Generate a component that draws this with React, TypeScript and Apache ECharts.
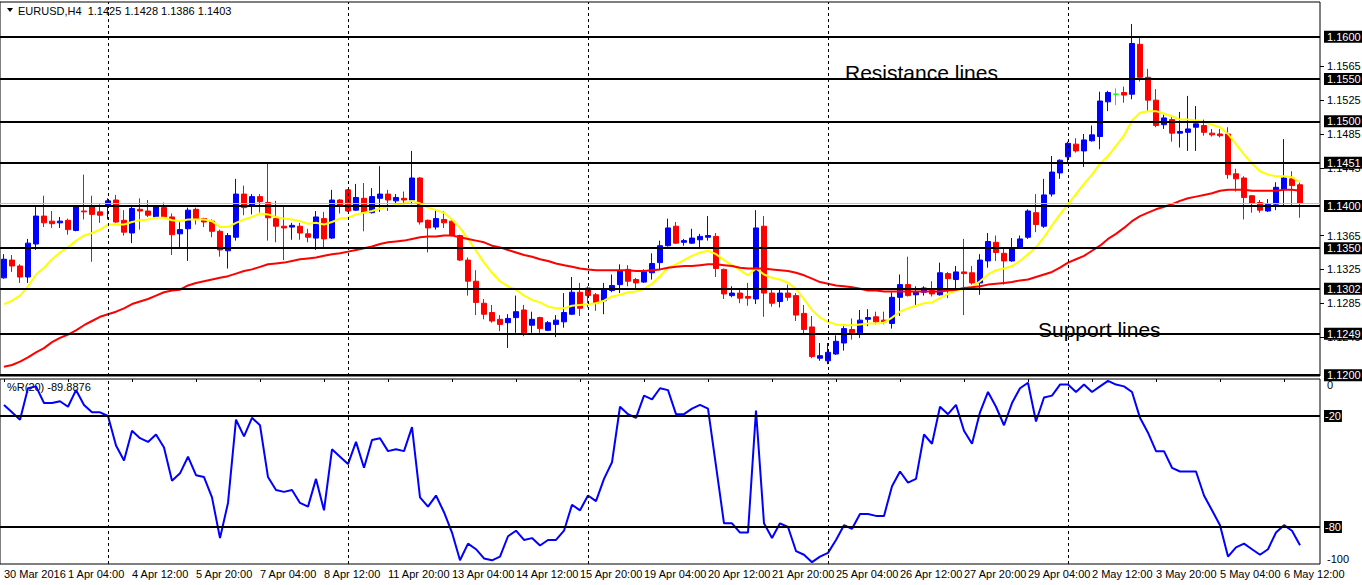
import React, { useEffect, useRef } from "react";
import * as echarts from "echarts";

// ---- tick labels on the time axis (one every 8 bars) ----
const tickLabels = [
  "30 Mar 2016", "1 Apr 04:00", "4 Apr 12:00", "5 Apr 20:00", "7 Apr 04:00", "8 Apr 12:00",
  "11 Apr 20:00", "13 Apr 04:00", "14 Apr 12:00", "15 Apr 20:00", "19 Apr 04:00", "20 Apr 12:00",
  "21 Apr 20:00", "25 Apr 04:00", "26 Apr 12:00", "27 Apr 20:00", "29 Apr 04:00", "2 May 12:00",
  "3 May 20:00", "5 May 04:00", "6 May 12:00",
];

// ---- EURUSD H4 candles ----
const opens = [
  1.1315, 1.1336, 1.1329, 1.1316, 1.1355, 1.1388, 1.1382, 1.1380, 1.1383, 1.1371,
  1.1394, 1.1399, 1.1393, 1.1400, 1.1407, 1.1383, 1.1368, 1.1396, 1.1394, 1.1387,
  1.1398, 1.1387, 1.1367, 1.1373, 1.1396, 1.1385, 1.1382, 1.1370, 1.1347, 1.1363,
  1.1414, 1.1400, 1.1411, 1.1404, 1.1385, 1.1376, 1.1375, 1.1376, 1.1367, 1.1362,
  1.1385, 1.1362, 1.1407, 1.1419, 1.1395, 1.1409, 1.1392, 1.1409, 1.1414, 1.1406,
  1.1409, 1.1407, 1.1433, 1.1383, 1.1375, 1.1384, 1.1382, 1.1365, 1.1336, 1.1311,
  1.1285, 1.1274, 1.1266, 1.1262, 1.1268, 1.1277, 1.1259, 1.1268, 1.1253, 1.1260,
  1.1263, 1.1272, 1.1298, 1.1303, 1.1295, 1.1288, 1.1300, 1.1307, 1.1325, 1.1313,
  1.1310, 1.1321, 1.1333, 1.1353, 1.1376, 1.1357, 1.1356, 1.1360, 1.1363, 1.1364,
  1.1325, 1.1294, 1.1297, 1.1293, 1.1290, 1.1376, 1.1297, 1.1287, 1.1297, 1.1294,
  1.1273, 1.1257, 1.1220, 1.1217, 1.1225, 1.1238, 1.1254, 1.1250, 1.1266, 1.1269,
  1.1265, 1.1261, 1.1292, 1.1307, 1.1295, 1.1298, 1.1300, 1.1295, 1.1320, 1.1313,
  1.1322, 1.1321, 1.1309, 1.1335, 1.1357, 1.1344, 1.1335, 1.1350, 1.1363, 1.1392,
  1.1376, 1.1414, 1.1439, 1.1458, 1.1473, 1.1465, 1.1477, 1.1482, 1.1523, 1.1532,
  1.1534, 1.1532, 1.1591, 1.1552, 1.1525, 1.1496, 1.1502, 1.1486, 1.1487, 1.1493,
  1.1495, 1.1486, 1.1485, 1.1485, 1.1438, 1.1433, 1.1412, 1.1404, 1.1394, 1.1402,
  1.1420, 1.1432, 1.1425,
];
const closes = [
  1.1337, 1.1329, 1.1316, 1.1356, 1.1388, 1.1380, 1.1379, 1.1382, 1.1372, 1.1399,
  1.1393, 1.1390, 1.1389, 1.1406, 1.1381, 1.1369, 1.1397, 1.1394, 1.1389, 1.1399,
  1.1387, 1.1366, 1.1372, 1.1395, 1.1385, 1.1381, 1.1370, 1.1348, 1.1365, 1.1414,
  1.1398, 1.1411, 1.1405, 1.1386, 1.1376, 1.1374, 1.1377, 1.1368, 1.1363, 1.1387,
  1.1361, 1.1407, 1.1401, 1.1394, 1.1410, 1.1392, 1.1411, 1.1414, 1.1407, 1.1410,
  1.1407, 1.1433, 1.1381, 1.1374, 1.1385, 1.1380, 1.1365, 1.1336, 1.1311, 1.1286,
  1.1272, 1.1264, 1.1260, 1.1267, 1.1275, 1.1250, 1.1266, 1.1255, 1.1262, 1.1265,
  1.1274, 1.1298, 1.1279, 1.1294, 1.1285, 1.1301, 1.1306, 1.1323, 1.1311, 1.1309,
  1.1322, 1.1332, 1.1353, 1.1374, 1.1356, 1.1359, 1.1362, 1.1364, 1.1365, 1.1326,
  1.1296, 1.1297, 1.1291, 1.1291, 1.1374, 1.1297, 1.1285, 1.1297, 1.1292, 1.1271,
  1.1254, 1.1222, 1.1223, 1.1227, 1.1240, 1.1255, 1.1250, 1.1265, 1.1268, 1.1263,
  1.1263, 1.1292, 1.1307, 1.1294, 1.1298, 1.1303, 1.1296, 1.1321, 1.1314, 1.1322,
  1.1320, 1.1309, 1.1336, 1.1358, 1.1345, 1.1335, 1.1350, 1.1361, 1.1394, 1.1378,
  1.1413, 1.1440, 1.1454, 1.1474, 1.1465, 1.1478, 1.1484, 1.1524, 1.1534, 1.1532,
  1.1531, 1.1592, 1.1552, 1.1525, 1.1495, 1.1504, 1.1486, 1.1488, 1.1491, 1.1497,
  1.1487, 1.1484, 1.1483, 1.1437, 1.1432, 1.1410, 1.1403, 1.1395, 1.1402, 1.1422,
  1.1433, 1.1424, 1.1403,
];
const lows = [
  1.1314, 1.1322, 1.1309, 1.1309, 1.1348, 1.1375, 1.1374, 1.1374, 1.1366, 1.1370,
  1.1384, 1.1334, 1.1380, 1.1384, 1.1380, 1.1365, 1.1356, 1.1372, 1.1387, 1.1386,
  1.1386, 1.1342, 1.1351, 1.1335, 1.1378, 1.1375, 1.1363, 1.1340, 1.1326, 1.1359,
  1.1389, 1.1390, 1.1392, 1.1359, 1.1357, 1.1336, 1.1360, 1.1360, 1.1357, 1.1348,
  1.1351, 1.1361, 1.1391, 1.1393, 1.1394, 1.1370, 1.1391, 1.1393, 1.1394, 1.1402,
  1.1402, 1.1402, 1.1378, 1.1345, 1.1372, 1.1374, 1.1364, 1.1335, 1.1294, 1.1271,
  1.1266, 1.1262, 1.1252, 1.1232, 1.1250, 1.1246, 1.1250, 1.1250, 1.1252, 1.1245,
  1.1256, 1.1271, 1.1270, 1.1280, 1.1276, 1.1272, 1.1298, 1.1297, 1.1305, 1.1302,
  1.1309, 1.1313, 1.1325, 1.1352, 1.1355, 1.1353, 1.1355, 1.1349, 1.1359, 1.1316,
  1.1290, 1.1292, 1.1285, 1.1282, 1.1284, 1.1269, 1.1281, 1.1280, 1.1288, 1.1264,
  1.1248, 1.1220, 1.1217, 1.1213, 1.1224, 1.1229, 1.1242, 1.1244, 1.1258, 1.1260,
  1.1260, 1.1255, 1.1270, 1.1293, 1.1282, 1.1294, 1.1293, 1.1294, 1.1291, 1.1301,
  1.1271, 1.1307, 1.1295, 1.1327, 1.1335, 1.1307, 1.1334, 1.1349, 1.1361, 1.1369,
  1.1374, 1.1411, 1.1432, 1.1452, 1.1463, 1.1446, 1.1476, 1.1467, 1.1512, 1.1519,
  1.1522, 1.1526, 1.1547, 1.1512, 1.1493, 1.1491, 1.1476, 1.1469, 1.1465, 1.1465,
  1.1483, 1.1482, 1.1481, 1.1432, 1.1417, 1.1384, 1.1392, 1.1392, 1.1393, 1.1395,
  1.1400, 1.1400, 1.1386,
];
const highs = [
  1.1343, 1.1342, 1.1331, 1.1361, 1.1399, 1.1412, 1.1394, 1.1387, 1.1385, 1.1400,
  1.1437, 1.1412, 1.1402, 1.1409, 1.1413, 1.1395, 1.1400, 1.1409, 1.1407, 1.1401,
  1.1404, 1.1391, 1.1381, 1.1398, 1.1398, 1.1386, 1.1384, 1.1372, 1.1368, 1.1432,
  1.1424, 1.1414, 1.1414, 1.1451, 1.1406, 1.1400, 1.1380, 1.1380, 1.1373, 1.1394,
  1.1393, 1.1419, 1.1408, 1.1420, 1.1426, 1.1427, 1.1421, 1.1447, 1.1419, 1.1414,
  1.1417, 1.1465, 1.1434, 1.1384, 1.1395, 1.1394, 1.1383, 1.1366, 1.1339, 1.1324,
  1.1290, 1.1283, 1.1271, 1.1272, 1.1294, 1.1283, 1.1275, 1.1269, 1.1264, 1.1271,
  1.1297, 1.1316, 1.1309, 1.1305, 1.1297, 1.1309, 1.1319, 1.1331, 1.1330, 1.1315,
  1.1325, 1.1344, 1.1359, 1.1385, 1.1381, 1.1361, 1.1373, 1.1367, 1.1388, 1.1368,
  1.1326, 1.1305, 1.1303, 1.1309, 1.1395, 1.1388, 1.1302, 1.1302, 1.1307, 1.1297,
  1.1283, 1.1270, 1.1238, 1.1238, 1.1247, 1.1260, 1.1267, 1.1277, 1.1278, 1.1275,
  1.1275, 1.1298, 1.1319, 1.1340, 1.1305, 1.1305, 1.1311, 1.1333, 1.1322, 1.1329,
  1.1361, 1.1329, 1.1343, 1.1368, 1.1365, 1.1349, 1.1362, 1.1365, 1.1396, 1.1414,
  1.1432, 1.1459, 1.1455, 1.1476, 1.1480, 1.1485, 1.1495, 1.1535, 1.1536, 1.1539,
  1.1541, 1.1615, 1.1600, 1.1562, 1.1538, 1.1508, 1.1507, 1.1511, 1.1530, 1.1518,
  1.1502, 1.1491, 1.1491, 1.1493, 1.1444, 1.1435, 1.1413, 1.1407, 1.1408, 1.1428,
  1.1479, 1.1441, 1.1428,
];

// ---- moving averages as drawn ----
const fastMA = [
  1.1284, 1.1288, 1.1294, 1.1305, 1.1319, 1.1327, 1.1337, 1.1345, 1.1351, 1.1359,
  1.1365, 1.1368, 1.1372, 1.1378, 1.1378, 1.1378, 1.1381, 1.1383, 1.1384, 1.1386,
  1.1386, 1.1383, 1.1382, 1.1384, 1.1384, 1.1384, 1.1382, 1.1375, 1.1375, 1.1380,
  1.1384, 1.1387, 1.1391, 1.1390, 1.1387, 1.1385, 1.1384, 1.1382, 1.1379, 1.1380,
  1.1378, 1.1381, 1.1385, 1.1386, 1.1390, 1.1392, 1.1394, 1.1397, 1.1399, 1.1401,
  1.1403, 1.1406, 1.1403, 1.1398, 1.1395, 1.1392, 1.1384, 1.1374, 1.1361, 1.1347,
  1.1333, 1.1321, 1.1311, 1.1305, 1.1301, 1.1294, 1.1289, 1.1286, 1.1281, 1.1279,
  1.1279, 1.1282, 1.1283, 1.1284, 1.1285, 1.1288, 1.1293, 1.1295, 1.1298, 1.1299,
  1.1302, 1.1308, 1.1317, 1.1327, 1.1331, 1.1336, 1.1341, 1.1345, 1.1347, 1.1343,
  1.1336, 1.1330, 1.1324, 1.1318, 1.1326, 1.1319, 1.1315, 1.1313, 1.1309, 1.1302,
  1.1290, 1.1277, 1.1268, 1.1263, 1.1260, 1.1259, 1.1259, 1.1260, 1.1261, 1.1261,
  1.1262, 1.1268, 1.1275, 1.1279, 1.1282, 1.1285, 1.1286, 1.1291, 1.1296, 1.1300,
  1.1302, 1.1304, 1.1311, 1.1319, 1.1324, 1.1326, 1.1329, 1.1335, 1.1343, 1.1351,
  1.1363, 1.1377, 1.1390, 1.1402, 1.1414, 1.1426, 1.1437, 1.1450, 1.1459, 1.1471,
  1.1483, 1.1501, 1.1510, 1.1512, 1.1512, 1.1509, 1.1506, 1.1502, 1.1502, 1.1501,
  1.1499, 1.1496, 1.1493, 1.1485, 1.1473, 1.1461, 1.1450, 1.1441, 1.1437, 1.1435,
  1.1435, 1.1434, 1.1428,
];
const slowMA = [
  1.1210, 1.1212, 1.1216, 1.1221, 1.1227, 1.1232, 1.1239, 1.1244, 1.1248, 1.1253,
  1.1259, 1.1264, 1.1269, 1.1272, 1.1275, 1.1279, 1.1284, 1.1287, 1.1290, 1.1294,
  1.1298, 1.1300, 1.1301, 1.1306, 1.1309, 1.1311, 1.1313, 1.1315, 1.1317, 1.1320,
  1.1323, 1.1325, 1.1328, 1.1331, 1.1332, 1.1333, 1.1335, 1.1337, 1.1338, 1.1339,
  1.1341, 1.1343, 1.1344, 1.1346, 1.1348, 1.1350, 1.1352, 1.1355, 1.1357, 1.1358,
  1.1359, 1.1361, 1.1363, 1.1364, 1.1364, 1.1365, 1.1365, 1.1363, 1.1361, 1.1359,
  1.1357, 1.1353, 1.1351, 1.1348, 1.1345, 1.1342, 1.1340, 1.1337, 1.1335, 1.1332,
  1.1330, 1.1328, 1.1326, 1.1325, 1.1324, 1.1324, 1.1324, 1.1324, 1.1324, 1.1323,
  1.1323, 1.1324, 1.1325, 1.1327, 1.1328, 1.1329, 1.1329, 1.1330, 1.1331, 1.1331,
  1.1330, 1.1329, 1.1327, 1.1326, 1.1326, 1.1326, 1.1325, 1.1324, 1.1323, 1.1321,
  1.1318, 1.1314, 1.1310, 1.1308, 1.1306, 1.1305, 1.1304, 1.1302, 1.1300, 1.1300,
  1.1299, 1.1299, 1.1299, 1.1299, 1.1299, 1.1299, 1.1299, 1.1299, 1.1300, 1.1301,
  1.1303, 1.1304, 1.1305, 1.1307, 1.1308, 1.1309, 1.1310, 1.1312, 1.1313, 1.1316,
  1.1319, 1.1322, 1.1327, 1.1333, 1.1337, 1.1341, 1.1347, 1.1353, 1.1361, 1.1367,
  1.1374, 1.1382, 1.1388, 1.1392, 1.1396, 1.1399, 1.1402, 1.1406, 1.1409, 1.1411,
  1.1413, 1.1415, 1.1418, 1.1419, 1.1419, 1.1419, 1.1418, 1.1418, 1.1418, 1.1418,
  1.1419, 1.1419, 1.1418,
];

// ---- Williams %R(20) ----
const williamsR = [
  -14, -18, -22, -5, -4, -13, -13, -12, -15, -6,
  -14, -18, -18, -20, -36, -44, -28, -32, -34, -30,
  -37, -55, -51, -42, -52, -53, -64, -86, -67, -22,
  -31, -21, -25, -53, -60, -61, -60, -67, -69, -54,
  -71, -38, -42, -46, -34, -48, -33, -32, -39, -38,
  -39, -26, -64, -69, -63, -72, -83, -98, -89, -92,
  -97, -98, -96, -85, -82, -87, -86, -90, -87, -87,
  -82, -68, -71, -63, -66, -54, -45, -15, -19, -21,
  -9, -11, -5, -6, -19, -19, -16, -14, -16, -47,
  -78, -78, -83, -83, -17, -78, -86, -78, -80, -93,
  -95, -99, -96, -94, -87, -79, -81, -73, -73, -74,
  -74, -58, -50, -56, -54, -30, -35, -15, -19, -14,
  -28, -35, -18, -7, -15, -25, -13, -5, -2, -23,
  -10, -9, -3, -3, -7, -3, -7, -4, -1, -3,
  -4, -7, -21, -29, -39, -39, -48, -50, -50, -50,
  -63, -71, -79, -96, -91, -89, -92, -95, -92, -83,
  -79, -82, -89.8876,
];

// ---- horizontal levels, axis ticks, week separators ----
const priceLevels = [1.16, 1.155, 1.15, 1.1451, 1.14, 1.135, 1.1302, 1.1249, 1.12];
const priceTicks = [1.1565, 1.1525, 1.1485, 1.1445, 1.1365, 1.1325, 1.1285, 1.1245];
const currentPrice = 1.1403;
const weekStarts = [13, 43, 73, 103, 133];
const wprLevels = [-20, -80];
const wprTicks = [0, -100];
const rightShiftBars = 2;

const FONT = '"Liberation Sans Narrow", "Liberation Sans", Arial, sans-serif';

export default function App() {
  const ref = useRef<HTMLDivElement>(null);

  useEffect(() => {
    if (!ref.current) return;
    const chart = echarts.init(ref.current, null, { renderer: "svg" });
    const n = opens.length;
    const categories = Array.from({ length: n + rightShiftBars }, (_, i) => String(i));

    const candleData = opens.map((o, i) => {
      const v = [o, closes[i], lows[i], highs[i]];
      if (o === closes[i]) {
        return {
          value: v,
          itemStyle: { color: "#00ff00", color0: "#00ff00", borderColor: "#00ff00", borderColor0: "#00ff00", borderColorDoji: "#00ff00" },
        };
      }
      return v;
    });

    const boxLabel = {
      show: true,
      position: "end",
      distance: 4,
      color: "#ffffff",
      backgroundColor: "#000000",
      padding: [1, 3, 0, 3],
      fontSize: 11,
      fontFamily: FONT,
    };

    const vLines = weekStarts.map((b) => ({ xAxis: b }));

    const option: any = {
      animation: false,
      backgroundColor: "#ffffff",
      grid: [
        { left: 0, top: 2, width: 1320, height: 374, show: true, borderColor: "#000", borderWidth: 1, backgroundColor: "transparent", outerBoundsMode: "none", containLabel: false },
        { left: 0, top: 379, width: 1320, height: 185, show: true, borderColor: "#000", borderWidth: 1, backgroundColor: "transparent", outerBoundsMode: "none", containLabel: false },
      ],
      xAxis: [
        {
          type: "category", gridIndex: 0, data: categories, boundaryGap: true,
          axisLine: { show: false }, axisTick: { show: false }, axisLabel: { show: false }, splitLine: { show: false },
        },
        {
          type: "category", gridIndex: 1, data: categories, boundaryGap: true,
          axisLine: { show: false },
          axisTick: { show: true, interval: 7, alignWithLabel: true, length: 3, lineStyle: { color: "#000" } },
          axisLabel: {
            show: true, interval: 7, align: "left", margin: 4, color: "#000", fontSize: 11, fontFamily: FONT,
            formatter: (_v: string, i: number) => (i % 8 === 0 && tickLabels[i / 8]) ? tickLabels[i / 8] : "",
          },
          splitLine: { show: false },
        },
      ],
      yAxis: [
        {
          type: "value", gridIndex: 0, position: "right", min: 1.1199, max: 1.1641, scale: true,
          axisLine: { show: false },
          axisTick: { show: true, customValues: priceTicks, length: 4, lineStyle: { color: "#000" } },
          axisLabel: {
            show: true, customValues: priceTicks, margin: 7, color: "#000", fontSize: 11, fontFamily: FONT,
            formatter: (v: number) => v.toFixed(4),
          },
          splitLine: { show: false },
        },
        {
          type: "value", gridIndex: 1, position: "right", min: -100, max: 0,
          axisLine: { show: false },
          axisTick: { show: false },
          axisLabel: {
            show: true, customValues: wprTicks, margin: 7, color: "#000", fontSize: 11, fontFamily: FONT,
            formatter: (v: number) => (v === 0 ? "{t|0}" : "{b|" + v + "}"),
            rich: {
              t: { padding: [12, 0, 0, 0], fontSize: 11, fontFamily: FONT, color: "#000" },
              b: { padding: [0, 0, 11, 0], fontSize: 11, fontFamily: FONT, color: "#000" },
            },
          },
          splitLine: { show: false },
        },
      ],
      series: [
        {
          type: "candlestick",
          xAxisIndex: 0, yAxisIndex: 0,
          data: candleData,
          barWidth: 5,
          itemStyle: {
            color: "#0000ff", color0: "#ff0000",
            borderColor: "#0000ff", borderColor0: "#ff0000", borderWidth: 1,
          },
          z: 2,
          markLine: {
            silent: true, symbol: ["none", "none"], animation: false, precision: 4,
            data: [
              ...vLines.map((d) => ({ ...d, lineStyle: { color: "#000", width: 1, type: [3, 3] }, label: { show: false } })),
              { yAxis: currentPrice, lineStyle: { color: "#c0c0c0", width: 1, type: "solid" }, label: { show: false } },
              ...priceLevels.map((p) => ({
                yAxis: p,
                lineStyle: { color: "#000", width: 2, type: "solid" },
                label: { ...boxLabel, formatter: () => p.toFixed(4) },
              })),
            ],
          },
        },
        {
          type: "line", xAxisIndex: 0, yAxisIndex: 0, data: fastMA, symbol: "none", z: 4,
          lineStyle: { color: "#ffff00", width: 2 }, itemStyle: { color: "#ffff00" },
        },
        {
          type: "line", xAxisIndex: 0, yAxisIndex: 0, data: slowMA, symbol: "none", z: 4,
          lineStyle: { color: "#ff0000", width: 2 }, itemStyle: { color: "#ff0000" },
        },
        {
          type: "line", xAxisIndex: 1, yAxisIndex: 1, data: williamsR, symbol: "none", z: 4,
          lineStyle: { color: "#0000ff", width: 2 }, itemStyle: { color: "#0000ff" },
          markLine: {
            silent: true, symbol: ["none", "none"], animation: false, precision: 4,
            data: [
              ...vLines.map((d) => ({ ...d, lineStyle: { color: "#000", width: 1, type: [3, 3] }, label: { show: false } })),
              ...wprLevels.map((v) => ({
                yAxis: v,
                lineStyle: { color: "#000", width: 2, type: "solid" },
                label: { ...boxLabel, padding: [1, 1, 0, 1], formatter: () => String(v) },
              })),
            ],
          },
        },
      ],
      graphic: [
        { type: "polygon", shape: { points: [[7, 8], [13, 8], [10, 12]] }, style: { fill: "#000" } },
        {
          type: "text", x: 18, y: 11,
          style: { text: "EURUSD,H4  1.1425 1.1428 1.1386 1.1403", fill: "#000", font: '11px ' + FONT, verticalAlign: "middle" },
        },
        {
          type: "text", x: 845, y: 72,
          style: { text: "Resistance lines", fill: "#000", font: '21px "Liberation Sans", Arial, sans-serif', verticalAlign: "middle" },
        },
        {
          type: "text", x: 1038, y: 329,
          style: { text: "Support lines", fill: "#000", font: '21px "Liberation Sans", Arial, sans-serif', verticalAlign: "middle" },
        },
        {
          type: "text", x: 7, y: 387,
          style: { text: "%R(20) -89.8876", fill: "#000", font: '11px ' + FONT, verticalAlign: "middle" },
        },
      ],
    };

    chart.setOption(option);
    return () => chart.dispose();
  }, []);

  return (
    <div
      ref={ref}
      style={{ position: "absolute", left: 0, top: 0, width: 1362, height: 585, background: "#ffffff" }}
    />
  );
}
